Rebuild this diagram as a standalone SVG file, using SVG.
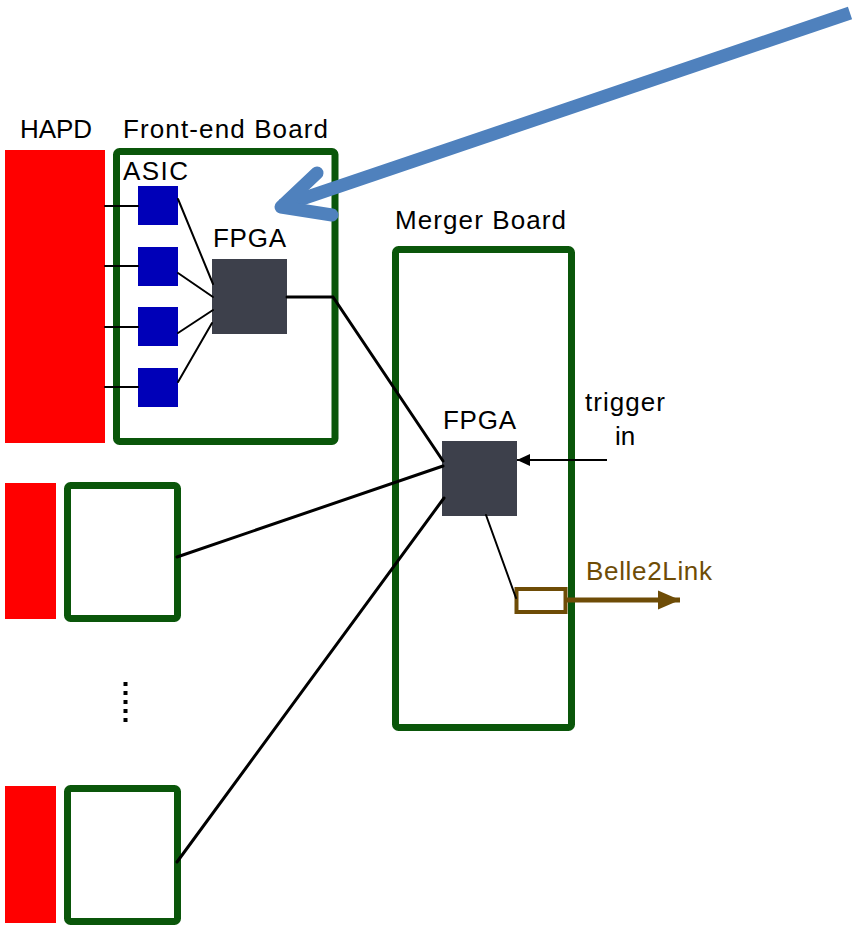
<svg xmlns="http://www.w3.org/2000/svg" width="853" height="927" viewBox="0 0 853 927">
  <style>
    .hapd { fill: #ff0000; }
    .board { fill: #ffffff; stroke: #0a560a; stroke-width: 7; }
    .asic { fill: #0000b8; }
    .fpga { fill: #3d404b; }
    .lbl { font-family: "Liberation Sans", Arial, sans-serif; font-size: 26px; fill: #000000; }
    .wire { stroke: #000000; fill: none; stroke-linecap: round; }
    .thin { stroke-width: 2; }
    .thick { stroke-width: 3; }
  </style>
  <defs>
    <marker id="blackHead" markerUnits="userSpaceOnUse" markerWidth="14" markerHeight="12" refX="13" refY="6" orient="auto">
      <path d="M0,0 L13,6 L0,12 Z" fill="#000000"/>
    </marker>
    <marker id="brownHead" markerUnits="userSpaceOnUse" markerWidth="24" markerHeight="20" refX="22" refY="10" orient="auto">
      <path d="M0,0.5 L22,10 L0,19.5 Z" fill="#6e4c06"/>
    </marker>
  </defs>

  <rect width="853" height="927" fill="#ffffff"/>

  <!-- Titles -->
  <g id="titles">
    <text class="lbl" x="20" y="138" textLength="72" lengthAdjust="spacing">HAPD</text>
    <text class="lbl" x="123" y="138" textLength="205" lengthAdjust="spacing">Front-end Board</text>
    <text class="lbl" x="395" y="229" textLength="171" lengthAdjust="spacing">Merger Board</text>
  </g>

  <!-- HAPDs -->
  <g id="hapd1"><rect class="hapd" x="5" y="150" width="100" height="293"/></g>
  <g id="hapd2"><rect class="hapd" x="5" y="483" width="51" height="136"/></g>
  <g id="hapd3"><rect class="hapd" x="5" y="786" width="51" height="137"/></g>

  <!-- Front-end boards -->
  <g id="feb1">
    <rect class="board" x="116.5" y="151.5" width="218.5" height="290" rx="3"/>
    <text class="lbl" x="123" y="180" textLength="65" lengthAdjust="spacing">ASIC</text>
  </g>
  <g id="feb2"><rect class="board" x="67.5" y="485.5" width="110" height="133" rx="3"/></g>
  <g id="feb3"><rect class="board" x="67.5" y="788.5" width="110" height="133" rx="3"/></g>

  <g id="dots">
    <line x1="125.5" y1="682" x2="125.5" y2="722" stroke="#000000" stroke-width="4" stroke-dasharray="4 5"/>
  </g>

  <!-- ASICs -->
  <g id="asic1"><rect class="asic" x="138" y="186" width="40" height="39"/></g>
  <g id="asic2"><rect class="asic" x="138" y="247" width="40" height="39"/></g>
  <g id="asic3"><rect class="asic" x="138" y="307" width="40" height="39"/></g>
  <g id="asic4"><rect class="asic" x="138" y="368" width="40" height="39"/></g>

  <!-- FE FPGA -->
  <g id="fpga-fe">
    <rect class="fpga" x="212" y="259" width="75" height="75"/>
    <text class="lbl" x="213" y="247" textLength="73" lengthAdjust="spacing">FPGA</text>
  </g>

  <!-- Merger board -->
  <g id="merger">
    <rect class="board" x="395.5" y="249.5" width="176" height="478" rx="3"/>
  </g>

  <g id="fpga-merger">
    <rect class="fpga" x="442" y="441" width="75" height="75"/>
    <text class="lbl" x="443" y="429" textLength="73" lengthAdjust="spacing">FPGA</text>
  </g>

  <g id="belle2link-tx">
    <rect x="516.5" y="589" width="49" height="23" fill="#ffffff" stroke="#6e4c06" stroke-width="4"/>
  </g>

  <g id="trigger-label">
    <text class="lbl" x="585" y="411" textLength="80" lengthAdjust="spacing">trigger</text>
    <text class="lbl" x="625" y="445" text-anchor="middle">in</text>
  </g>

  <g id="belle2link-label">
    <text class="lbl" x="586" y="580" style="fill:#6e4c06" textLength="126" lengthAdjust="spacing">Belle2Link</text>
  </g>

  <!-- Connectors -->
  <g id="connectors">
    <!-- HAPD to ASIC -->
    <line class="wire thin" x1="105" y1="206" x2="138" y2="206"/>
    <line class="wire thin" x1="105" y1="266" x2="138" y2="266"/>
    <line class="wire thin" x1="105" y1="327" x2="138" y2="327"/>
    <line class="wire thin" x1="105" y1="387" x2="138" y2="387"/>
    <!-- ASIC to FPGA -->
    <line class="wire thin" x1="178" y1="199" x2="213" y2="284"/>
    <line class="wire thin" x1="178" y1="273" x2="213" y2="297"/>
    <line class="wire thin" x1="178" y1="333" x2="213" y2="310"/>
    <line class="wire thin" x1="178" y1="382" x2="212" y2="323"/>
    <!-- FE FPGA to merger FPGA -->
    <polyline class="wire thick" points="287,297 333,297 443,461"/>
    <line class="wire thick" x1="177" y1="557" x2="443" y2="466"/>
    <line class="wire thick" x1="177" y1="862" x2="444" y2="498"/>
    <!-- Merger FPGA to Belle2Link tx -->
    <line class="wire thin" x1="486" y1="515" x2="516" y2="598"/>
    <!-- trigger in -->
    <line stroke="#000000" stroke-width="2" x1="607" y1="460" x2="517" y2="460" marker-end="url(#blackHead)"/>
    <!-- Belle2Link out -->
    <line stroke="#6e4c06" stroke-width="5" x1="567" y1="600" x2="680" y2="600" marker-end="url(#brownHead)"/>
    <!-- Blue pointer arrow -->
    <path d="M850,13 L281,206" stroke="#4f81bd" stroke-width="13" fill="none"/>
    <polyline points="317,173 281,207 332,215" stroke="#4f81bd" stroke-width="13" fill="none" stroke-linecap="round" stroke-linejoin="round"/>
  </g>
</svg>
